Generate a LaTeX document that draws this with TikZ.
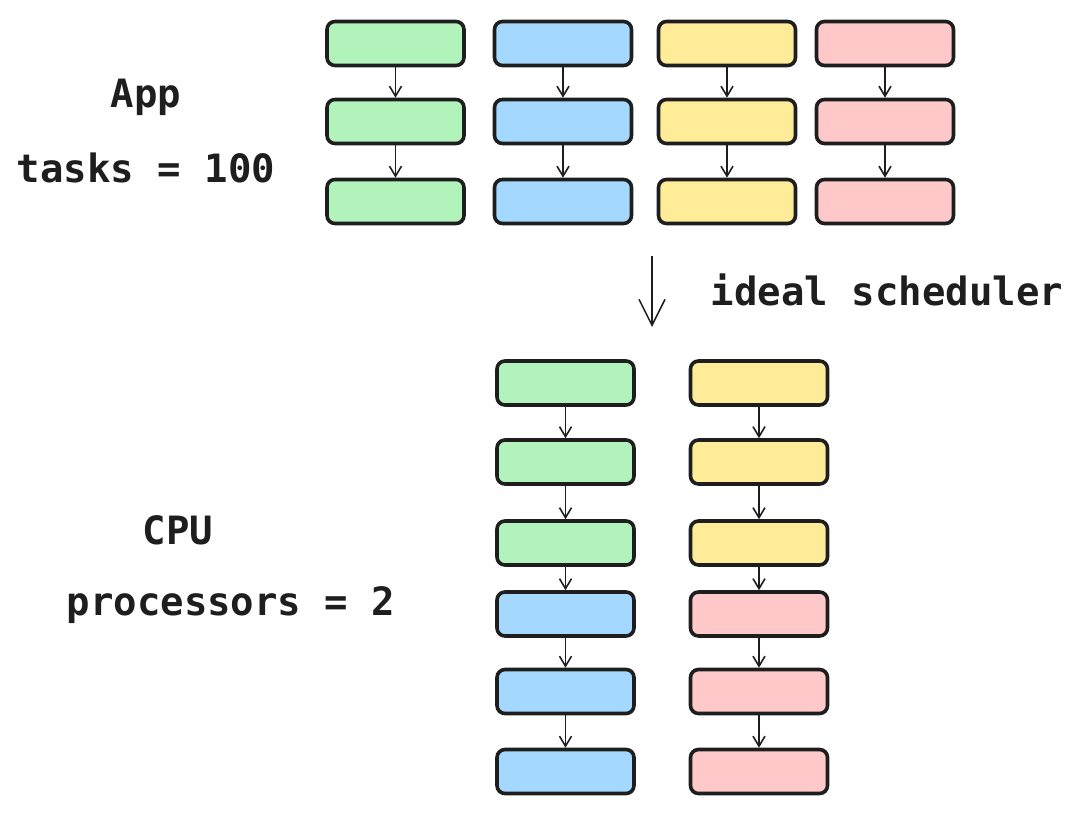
\documentclass[tikz,border=0pt]{standalone}
\usepackage{fontspec}
\setmonofont{DejaVu Sans Mono}
\usetikzlibrary{arrows.meta}
\definecolor{ink}{HTML}{1E1E1E}
\definecolor{cgreen}{HTML}{B2F2BB}
\definecolor{cblue}{HTML}{A5D8FF}
\definecolor{cyellow}{HTML}{FFEC99}
\definecolor{cpink}{HTML}{FFC9C9}
\begin{document}
\begin{tikzpicture}[x=1pt,y=-1pt,
  taskbox/.style={draw=ink,line width=3.6pt,rounded corners=8pt,minimum width=137pt,minimum height=44pt,inner sep=0pt},
  link/.style={draw=ink,line width=1.6pt,-{Straight Barb[length=10pt,width=12pt,line width=1.6pt]}},
  bigarrow/.style={draw=ink,line width=1.5pt,-{Straight Barb[length=26pt,width=26pt,line width=1.5pt]}},
  lbl/.style={font=\fontsize{39}{45}\selectfont\ttfamily\bfseries,text=ink,inner sep=0pt}]
\useasboundingbox (0,0) rectangle (1082,815);
% top
\foreach \c/\x/\col in {a/395.5/cgreen,b/563/cblue,c/727/cyellow,d/885/cpink}{
  \node[taskbox,fill=\col] (\c1) at (\x,43.5) {};
  \node[taskbox,fill=\col] (\c2) at (\x,121.5) {};
  \node[taskbox,fill=\col] (\c3) at (\x,201.5) {};
  \draw[link] (\c1.south) -- (\c2.north);
  \draw[link] (\c2.south) -- (\c3.north);
}
% bottom
\node[taskbox,fill=cgreen] (p1) at (565.5,383) {};
\node[taskbox,fill=cgreen] (p2) at (565.5,462) {};
\node[taskbox,fill=cgreen] (p3) at (565.5,543) {};
\node[taskbox,fill=cblue] (p4) at (565.5,614) {};
\node[taskbox,fill=cblue] (p5) at (565.5,691.5) {};
\node[taskbox,fill=cblue] (p6) at (565.5,771.5) {};
\node[taskbox,fill=cyellow] (q1) at (759,383) {};
\node[taskbox,fill=cyellow] (q2) at (759,462) {};
\node[taskbox,fill=cyellow] (q3) at (759,543) {};
\node[taskbox,fill=cpink] (q4) at (759,614) {};
\node[taskbox,fill=cpink] (q5) at (759,691.5) {};
\node[taskbox,fill=cpink] (q6) at (759,771.5) {};
\foreach \a/\b in {1/2,2/3,3/4,4/5,5/6}{
  \draw[link] (p\a.south) -- (p\b.north);
  \draw[link] (q\a.south) -- (q\b.north);
}
% big arrow
\coordinate (s0) at (652,256);
\coordinate (s1) at (652,327);
\draw[bigarrow] (s0) -- (s1);
% labels
\node[lbl] (app) at (146,97) {App};
\node[lbl] (tasks) at (146,168) {tasks = 100};
\node[lbl] (sched) at (887,290) {ideal scheduler};
\node[lbl] (cpu) at (178,530) {CPU};
\node[lbl] (procs) at (231,605) {processors = 2};
\end{tikzpicture}
\end{document}
